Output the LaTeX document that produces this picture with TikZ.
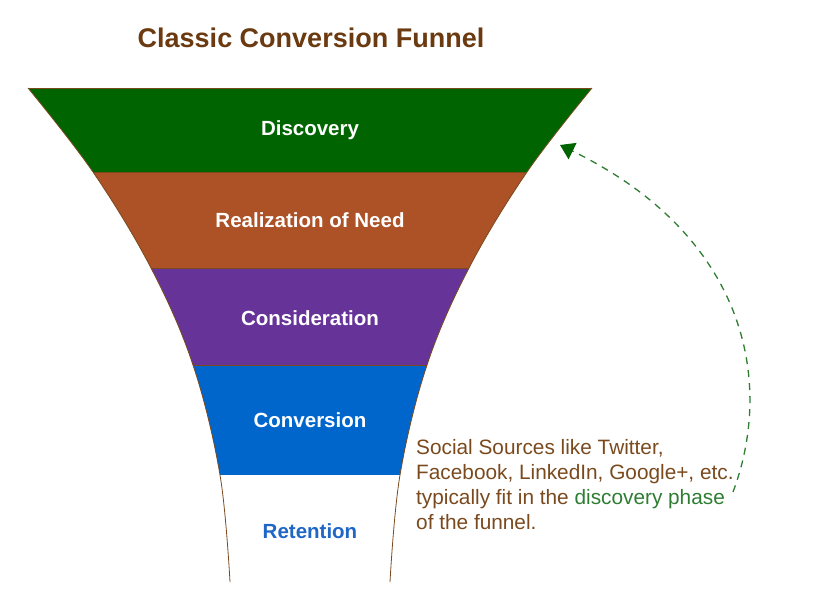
\documentclass[tikz,border=0pt]{standalone}
\usepackage{fontspec}
\setmainfont{Liberation Sans}
\usetikzlibrary{arrows.meta}
\definecolor{tbrown}{HTML}{6B3A10}
\definecolor{nbrown}{HTML}{7A4A1E}
\definecolor{cgreen}{HTML}{006400}
\definecolor{corange}{HTML}{AC5226}
\definecolor{cpurple}{HTML}{663399}
\definecolor{cblue}{HTML}{0066CC}
\definecolor{rblue}{HTML}{1F66C7}
\definecolor{agreen}{HTML}{2E7D32}
\begin{document}
\begin{tikzpicture}[x=1pt,y=-1pt,
  band/.style={font=\bfseries\fontsize{20.5}{24}\selectfont,text=white},
  edge/.style={draw=nbrown,line width=0.8pt}]
\useasboundingbox (0,0) rectangle (824,602);
\def\funnel{(28,88) -- (592,88) -- plot[smooth,tension=0.6] coordinates {(592,88) (527,172) (469,268) (427,365) (400,475) (390,582)} -- (230,582) -- plot[smooth,tension=0.6] coordinates {(230,582) (220,475) (193,365) (151,268) (93,172) (28,88)} -- cycle}
\begin{scope}
\clip \funnel;
\fill[cgreen] (0,80) rectangle (824,172);
\fill[corange] (0,172) rectangle (824,268);
\fill[cpurple] (0,268) rectangle (824,365);
\fill[cblue] (0,365) rectangle (824,475);
\draw[nbrown,line width=0.6pt] (0,172) -- (824,172) (0,268) -- (824,268) (0,365) -- (824,365);
\end{scope}
\draw[edge] (28,88) -- (592,88);
\draw[edge] plot[smooth,tension=0.6] coordinates {(592,88) (527,172) (469,268) (427,365) (400,475) (390,582)};
\draw[edge] plot[smooth,tension=0.6] coordinates {(230,582) (220,475) (193,365) (151,268) (93,172) (28,88)};
\node[font=\bfseries\fontsize{27}{30}\selectfont,text=tbrown] (title) at (311,38) {Classic Conversion Funnel};
\node[band] (disc) at (310,130) {Discovery};
\node[band] (real) at (310,220) {Realization of Need};
\node[band] (cons) at (310,318) {Consideration};
\node[band] (conv) at (310,420) {Conversion};
\node[font=\bfseries\fontsize{20.5}{24}\selectfont,text=rblue] (ret) at (310,531) {Retention};
\node[anchor=north west,align=left,text=nbrown,inner sep=0pt,font=\fontsize{20.8}{25}\selectfont] (note) at (416,439)
 {Social Sources like Twitter,\\Facebook, LinkedIn, Google+, etc.\\typically fit in the \textcolor{agreen}{discovery phase}\\of the funnel.};
\coordinate (start) at (733,492);
\coordinate (tip) at (560,145);
\draw[agreen,line width=1.3pt,dash pattern=on 7pt off 6pt,-{Triangle[length=14pt,width=18pt,fill=cgreen,color=cgreen]}]
 (start) .. controls (775,380) and (745,235) .. (tip);
\end{tikzpicture}
\end{document}
